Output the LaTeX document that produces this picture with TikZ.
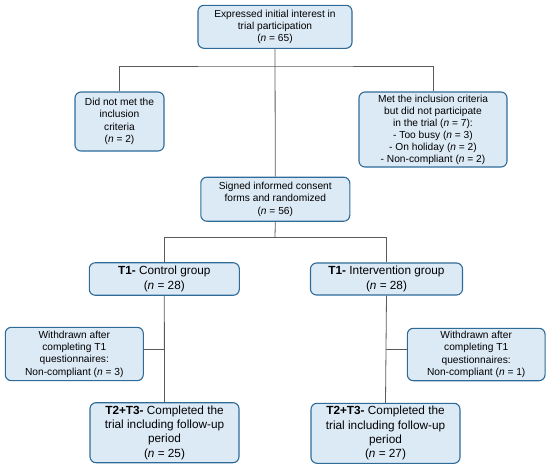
\documentclass[tikz,border=0pt]{standalone}
\usepackage{fontspec}
\setmainfont{Liberation Sans}
\begin{document}
\begin{tikzpicture}[x=1pt,y=-1pt,
  box/.style={draw=boxline, fill=boxfill, line width=1.1pt, rounded corners=6pt,
    align=center, inner sep=0pt, font=\fontsize{10.2}{12.4}\selectfont},
  bigbox/.style={box, font=\fontsize{11.8}{14.4}\selectfont},
  conn/.style={draw=connline, line width=0.8pt}]
\definecolor{boxfill}{HTML}{DCEAF6}
\definecolor{boxline}{HTML}{2F6B98}
\definecolor{connline}{HTML}{5A5A5A}
\useasboundingbox (0,0) rectangle (550,467);
\node[box, minimum width=154pt, minimum height=43pt] (top) at (275,26.8)
  {Expressed initial interest in\\trial participation\\(\textit{n} = 65)};
\node[box, minimum width=89pt, minimum height=59pt] (left) at (119.5,121.5)
  {Did not met the\\inclusion\\criteria\\(\textit{n} = 2)};
\node[box, minimum width=148pt, minimum height=75pt, font=\fontsize{10.2}{12}\selectfont] (right) at (433,129.5)
  {Met the inclusion criteria\\but did not participate\\in the trial (\textit{n} = 7):\\- Too busy (\textit{n} = 3)\\- On holiday (\textit{n} = 2)\\- Non-compliant (\textit{n} = 2)};
\node[box, minimum width=149pt, minimum height=44pt] (signed) at (275.3,199.2)
  {Signed informed consent\\forms and randomized\\(\textit{n} = 56)};
\node[bigbox, minimum width=150pt, minimum height=32.5pt] (ctrl) at (164.3,279)
  {\textbf{T1-} Control group\\(\textit{n} = 28)};
\node[bigbox, minimum width=152pt, minimum height=32pt] (intv) at (386.5,279)
  {\textbf{T1-} Intervention group\\(\textit{n} = 28)};
\node[box, minimum width=138pt, minimum height=53.3pt] (wl) at (74.3,354)
  {Withdrawn after\\completing T1\\questionnaires:\\Non-compliant (\textit{n} = 3)};
\node[box, minimum width=137.7pt, minimum height=52.4pt] (wr) at (476.2,354.5)
  {Withdrawn after\\completing T1\\questionnaires:\\Non-compliant (\textit{n} = 1)};
\node[bigbox, minimum width=149pt, minimum height=60pt] (bl) at (164.5,432.7)
  {\textbf{T2+T3-} Completed the\\trial including follow-up\\period\\(\textit{n} = 25)};
\node[bigbox, minimum width=149pt, minimum height=60pt] (br) at (385.5,433.3)
  {\textbf{T2+T3-} Completed the\\trial including follow-up\\period\\(\textit{n} = 27)};
\coordinate (h1) at (275,66);
\coordinate (h2) at (275,237.7);
\coordinate (cl) at (164.4,349.3);
\coordinate (cr) at (386,349.3);
\draw[conn] (top.south) -- (signed.north);
\draw[conn] (left.north) |- (h1) -| (right.north);
\draw[conn] (signed.south) -- (h2);
\draw[conn] (ctrl.north) |- (h2) -| (intv.north);
\draw[conn] (ctrl.south) -- (bl.north);
\draw[conn] (intv.south) -- (br.north);
\draw[conn] (wl.east |- cl) -- (cl);
\draw[conn] (wr.west |- cr) -- (cr);
\end{tikzpicture}
\end{document}
